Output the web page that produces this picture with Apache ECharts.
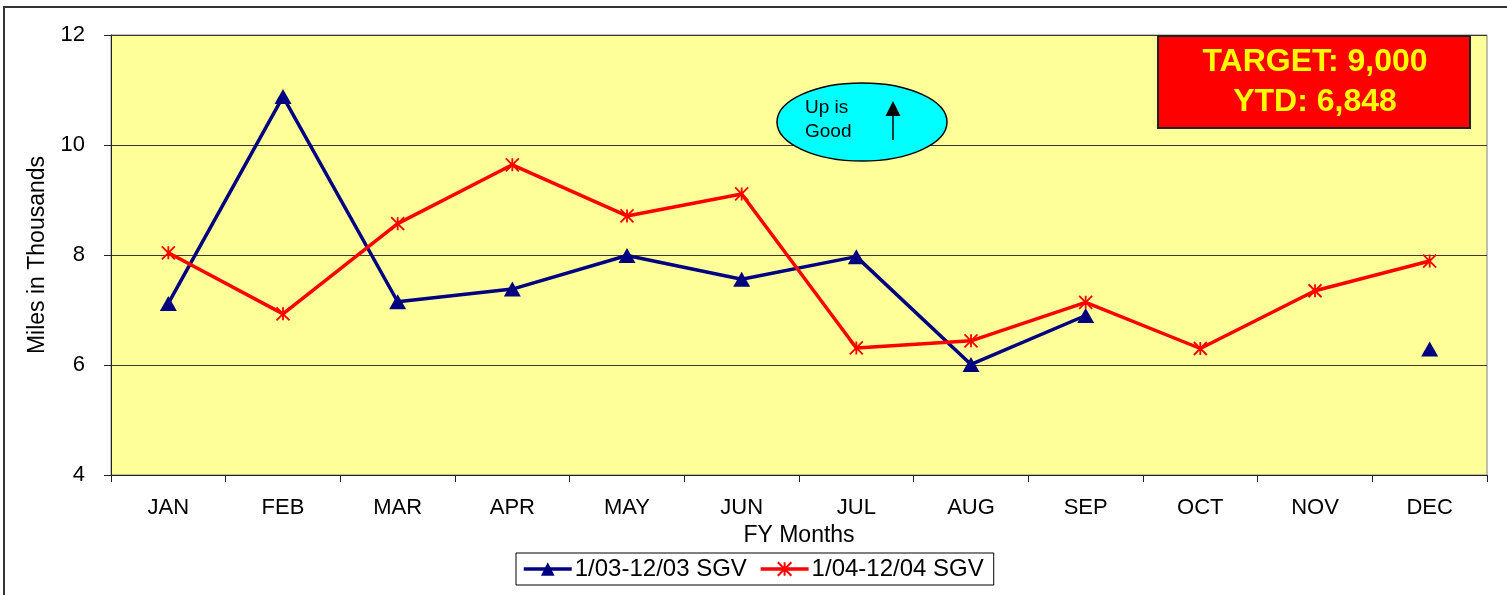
<!DOCTYPE html>
<html>
<head>
<meta charset="utf-8">
<script src="https://cdn.jsdelivr.net/npm/echarts@6/dist/echarts.min.js"></script>
<style>
html,body{margin:0;padding:0;background:#fff;}
#chart{width:1507px;height:595px;}
</style>
</head>
<body>
<div id="chart"></div>
<script>
// ---- data ----
const categories = ['JAN','FEB','MAR','APR','MAY','JUN','JUL','AUG','SEP','OCT','NOV','DEC'];
const sgv0312 = [7.12, 10.88, 7.15, 7.38, 7.99, 7.56, 7.97, 6.01, 6.90, null, null, 6.29];
const sgv0412 = [8.04, 6.93, 8.57, 9.64, 8.71, 9.11, 6.31, 6.44, 7.14, 6.30, 7.35, 7.89];
const seriesNames = ['1/03-12/03 SGV', '1/04-12/04 SGV'];
const yTicks = {min: 4, max: 12, interval: 2};
const targetText = ['TARGET: 9,000', 'YTD: 6,848'];
const noteText = ['Up is', 'Good'];

const FONT = 'Liberation Sans, Arial, sans-serif';
const starPath = 'path://M50,0L50,100M0,0L100,100M0,100L100,0';

const chart = echarts.init(document.getElementById('chart'), null, {renderer: 'canvas'});
const option = {
  animation: false,
  backgroundColor: '#ffffff',
  textStyle: {fontFamily: FONT, color: '#000'},
  grid: {
    left: 111, right: 20, top: 35, bottom: 120,
    show: true, backgroundColor: '#FFFF99', borderColor: '#808080', borderWidth: 1
  },
  xAxis: {
    type: 'category',
    data: categories,
    boundaryGap: true,
    name: 'FY Months',
    nameLocation: 'middle',
    nameGap: 47,
    nameTextStyle: {fontSize: 23, color: '#000', fontFamily: FONT},
    axisLine: {lineStyle: {color: '#222', width: 1}},
    axisTick: {show: true, length: 7, lineStyle: {color: '#222'}},
    axisLabel: {fontSize: 22, color: '#000', margin: 22, fontFamily: FONT},
    splitLine: {show: false}
  },
  yAxis: {
    type: 'value',
    min: yTicks.min, max: yTicks.max, interval: yTicks.interval,
    name: 'Miles in Thousands',
    nameLocation: 'middle',
    nameGap: 61,
    nameRotate: 90,
    nameTextStyle: {fontSize: 23, color: '#000', fontFamily: FONT},
    axisLine: {show: true, lineStyle: {color: '#222', width: 1}},
    axisTick: {show: true, length: 7, lineStyle: {color: '#222'}},
    axisLabel: {fontSize: 22, color: '#000', margin: 26, fontFamily: FONT},
    splitLine: {show: true, lineStyle: {color: '#3a3a2a', width: 1}}
  },
  legend: {
    left: 516, top: 553,
    padding: [4, 10, 4, 6],
    itemGap: 12,
    itemWidth: 48, itemHeight: 17,
    borderColor: '#000', borderWidth: 1,
    backgroundColor: '#fff',
    lineStyle: {width: 3.5},
    textStyle: {fontSize: 24, color: '#000', fontFamily: FONT, padding: [0,0,0,-2]},
    data: seriesNames
  },
  series: [
    {
      name: seriesNames[0],
      type: 'line',
      data: sgv0312,
      connectNulls: false,
      symbol: 'triangle',
      symbolSize: [17, 15],
      showSymbol: true,
      lineStyle: {color: '#000080', width: 3.5},
      itemStyle: {color: '#000080', borderColor: '#000080', borderWidth: 0}
    },
    {
      name: seriesNames[1],
      type: 'line',
      data: sgv0412,
      symbol: starPath,
      symbolSize: 13,
      showSymbol: true,
      lineStyle: {color: '#FF0000', width: 3.5},
      itemStyle: {color: '#FF0000', borderColor: '#FF0000', borderWidth: 1.8}
    }
  ],
  graphic: [
    {
      type: 'rect', silent: true, z: -1,
      shape: {x: 4, y: 7, width: 1700, height: 800},
      style: {fill: null, stroke: '#333', lineWidth: 2}
    },
    {
      type: 'rect', silent: true, z: 10,
      shape: {x: 1158, y: 36, width: 312, height: 92},
      style: {fill: '#FF0000', stroke: '#222', lineWidth: 2}
    },
    {
      type: 'text', silent: true, z: 11,
      x: 1315, y: 82,
      style: {
        text: targetText.join('\n'),
        fill: '#FFFF00', font: 'bold 32px ' + FONT,
        align: 'center', verticalAlign: 'middle', lineHeight: 40
      }
    },
    {
      type: 'ellipse', silent: true, z: 10,
      shape: {cx: 862, cy: 122, rx: 85, ry: 39},
      style: {fill: '#00FFFF', stroke: '#000', lineWidth: 1.5}
    },
    {
      type: 'text', silent: true, z: 11,
      x: 805, y: 120,
      style: {
        text: noteText.join('\n'),
        fill: '#000', font: '19px ' + FONT,
        align: 'left', verticalAlign: 'middle', lineHeight: 24
      }
    },
    {
      type: 'line', silent: true, z: 11,
      shape: {x1: 893, y1: 112, x2: 893, y2: 140},
      style: {stroke: '#000', lineWidth: 1.5}
    },
    {
      type: 'polygon', silent: true, z: 11,
      shape: {points: [[893, 101], [885.5, 116], [900.5, 116]]},
      style: {fill: '#000'}
    }
  ]
};
chart.setOption(option);
</script>
</body>
</html>
